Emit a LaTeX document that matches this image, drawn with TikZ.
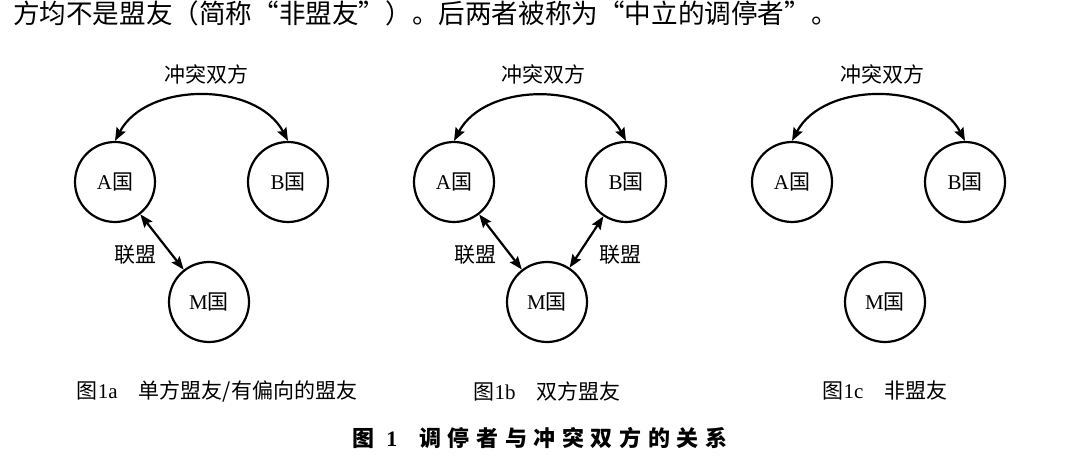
\documentclass[tikz,border=0pt]{standalone}
\usepackage{fontspec}
\setmainfont{Liberation Serif}
\newfontfamily\cjk{Noto Sans CJK SC}
\usetikzlibrary{arrows.meta}
\begin{document}
\begin{tikzpicture}[x=0.5pt, y=-0.5pt,
  nation/.style={circle, draw, line width=1.1pt, minimum size=40pt, inner sep=0pt, font=\fontsize{10.5}{12}\selectfont},
  lbl/.style={font=\cjk\fontsize{10.5}{12}\selectfont},
  twoway/.style={line width=1.1pt, {Stealth[length=6.5pt,width=5pt,inset=1pt]}-{Stealth[length=6.5pt,width=5pt,inset=1pt]}}]
\useasboundingbox (0,0) rectangle (1080,459);
\node[anchor=west, font=\cjk\fontsize{13.3}{15}\selectfont] (top) at (6,13){方均不是盟友（简称“非盟友”）。后两者被称为“中立的调停者”。};
\node[nation] (A1) at (115,182){A{\cjk 国}};
\node[nation] (B1) at (288,182){B{\cjk 国}};
\node[nation] (M1) at (209,302){M{\cjk 国}};
\node[lbl] (c1) at (206,74){冲突双方};
\draw[twoway](A1.north) to[bend left=62] (B1.north);
\draw[twoway](A1) -- (M1);
\node[lbl] (u1) at (135,255){联盟};
\node[lbl] (t1) at (217,391){图{\rmfamily 1a}\quad 单方盟友/有偏向的盟友};
\node[nation] (A2) at (454,182){A{\cjk 国}};
\node[nation] (B2) at (626,182){B{\cjk 国}};
\node[nation] (M2) at (547,302){M{\cjk 国}};
\node[lbl] (c2) at (543,74){冲突双方};
\draw[twoway](A2.north) to[bend left=62] (B2.north);
\draw[twoway](A2) -- (M2);
\draw[twoway](B2) -- (M2);
\node[lbl] (u2) at (475,255){联盟};
\node[lbl] (u3) at (620,255){联盟};
\node[lbl] (t2) at (547,391){图{\rmfamily 1b}\quad 双方盟友};
\node[nation] (A3) at (792,182){A{\cjk 国}};
\node[nation] (B3) at (965,182){B{\cjk 国}};
\node[nation] (M3) at (885,302){M{\cjk 国}};
\node[lbl] (c3) at (882,74){冲突双方};
\draw[twoway](A3.north) to[bend left=62] (B3.north);
\node[lbl] (t3) at (885,391){图{\rmfamily 1c}\quad 非盟友};
\node[font=\cjk\bfseries\fontsize{11}{13}\selectfont] (title) at (540,438){\addfontfeature{LetterSpace=30}图 {\rmfamily 1}\quad 调停者与冲突双方的关系};
\end{tikzpicture}
\end{document}
